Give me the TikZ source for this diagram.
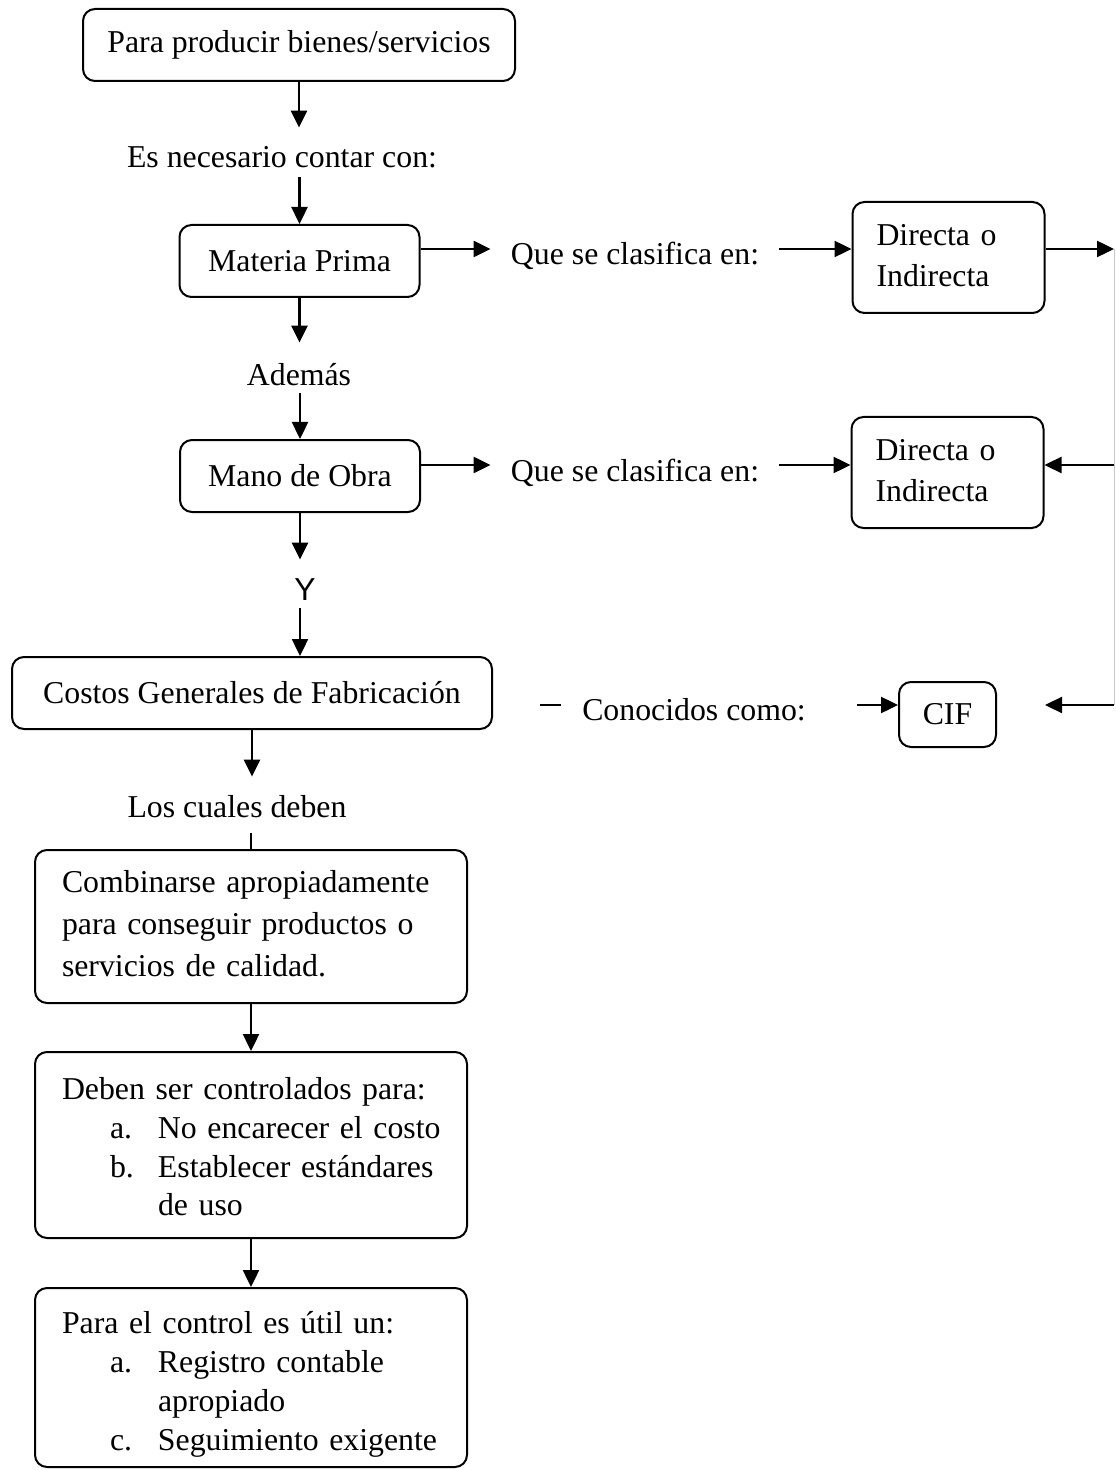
\documentclass[tikz,border=0pt]{standalone}
\usepackage{fontspec}
\setmainfont{Liberation Serif}
\newfontfamily\arialfam{Liberation Sans}
\usetikzlibrary{arrows.meta}

\tikzset{
  caja/.style={draw, line width=1pt, rounded corners=6pt, inner sep=0pt},
  cajalista/.style={caja, align=left, inner xsep=13.5pt, text width=189pt},
  cajad/.style={caja, align=left, inner xsep=12pt, text width=72pt, minimum height=55.5pt},
  rotulo/.style={inner sep=0pt, text height=11pt, text depth=0pt, anchor=base},
  flecha/.style={line width=1.2pt, -{Triangle[length=8.5pt,width=8pt]}},
}

\begin{document}
\begin{tikzpicture}[x=0.5pt,y=-0.5pt,font=\fontsize{15.9}{20.5}\selectfont]
\useasboundingbox (0,0) rectangle (1115,1470);

\coordinate (f1) at (0,249);
\coordinate (f2) at (0,465);
\coordinate (f3) at (0,705);
\coordinate (r1) at (1114,249);
\coordinate (r2) at (1114,465);
\coordinate (r3) at (1114,705);
\coordinate (cifin) at (1045,705);
\coordinate (g1) at (540,705);
\coordinate (g2) at (561,705);

% cajas
\node[caja, minimum width=216pt, minimum height=36pt] (inicio) at (299,45) {Para producir bienes/servicios};
\node[caja, minimum width=120pt, minimum height=36pt] (mp) at (299.5,261) {Materia Prima};
\node[caja, minimum width=120pt, minimum height=36pt] (mo) at (300,476) {Mano de Obra};
\node[cajad] (d1) at (948.5,257.5) {\begin{tabular}{@{}l@{}}Directa o\\Indirecta\end{tabular}};
\node[cajad] (d2) at (947.5,472.5) {\begin{tabular}{@{}l@{}}Directa o\\Indirecta\end{tabular}};
\node[caja, minimum width=240pt, minimum height=36pt] (cgf) at (252,693) {Costos Generales de Fabricación};
\node[caja, minimum width=48.5pt, minimum height=32.5pt] (cif) at (947.5,714.5) {CIF};
\node[cajalista, minimum height=76.5pt, font=\fontsize{15.9}{21}\selectfont] (comb) at (251,926.5) {\begin{tabular}{@{}l@{}}
Combinarse apropiadamente\\
para conseguir productos o\\
servicios de calidad.\end{tabular}};
\node[cajalista, minimum height=93pt, font=\fontsize{15.9}{19.3}\selectfont] (ctrl) at (251,1145) {\begin{tabular}{@{}l@{}}
\rule{0pt}{18.5pt}Deben ser controlados para:\\
\hspace*{24pt}\makebox[24pt][l]{a.}No encarecer el costo\\
\hspace*{24pt}\makebox[24pt][l]{b.}Establecer estándares\\
\hspace*{48pt}de uso\end{tabular}};
\node[cajalista, minimum height=89.5pt, font=\fontsize{15.9}{19.5}\selectfont] (util) at (251,1377.5) {\begin{tabular}{@{}l@{}}
\rule{0pt}{20.6pt}Para el control es útil un:\\
\hspace*{24pt}\makebox[24pt][l]{a.}Registro contable\\
\hspace*{48pt}apropiado\\
\hspace*{24pt}\makebox[24pt][l]{c.}Seguimiento exigente\end{tabular}};

% rotulos
\node[rotulo] (t1) at (282,168) {Es necesario contar con:};
\node[rotulo] (q1) at (635,265) {Que se clasifica en:};
\node[rotulo] (ad) at (299,386) {Además};
\node[rotulo] (q2) at (635,481) {Que se clasifica en:};
\node[rotulo, font=\arialfam\fontsize{15.9}{20.5}\selectfont] (yy) at (305,600) {Y};
\node[rotulo] (cc) at (694,720) {Conocidos como:};
\node[rotulo] (lc) at (237,817) {Los cuales deben};

% flechas verticales
\draw[flecha, shorten >=9pt] (inicio.south) -- (inicio.south |- t1.north);
\draw[flecha, shorten <=4.5pt] (mp.north |- t1.south) -- (mp.north);
\draw[flecha, shorten >=10.5pt] (mp.south) -- (mp.south |- ad.north);
\draw[flecha, shorten <=3.5pt] (mo.north |- ad.south) -- (mo.north);
\draw[flecha, shorten >=9pt] (mo.south) -- (mo.south |- yy.north);
\draw[flecha, shorten <=4pt] (mo.south |- yy.south) -- (mo.south |- cgf.north);
\draw[flecha, shorten >=9pt] (cgf.south) -- (cgf.south |- lc.north);
\draw[line width=1.2pt, shorten <=8pt] (comb.north |- lc.south) -- (comb.north);
\draw[flecha] (comb.south) -- (ctrl.north);
\draw[flecha] (ctrl.south) -- (util.north);

% flechas horizontales
\draw[flecha, shorten >=10pt] (mp.east |- f1) -- (q1.west |- f1);
\draw[flecha, shorten <=10pt] (q1.east |- f1) -- (d1.west |- f1);
\draw[flecha] (d1.east |- f1) -- (r1);
\draw[flecha, shorten >=10pt] (mo.east |- f2) -- (q2.west |- f2);
\draw[flecha, shorten <=10pt] (q2.east |- f2) -- (d2.west |- f2);
\draw[flecha] (r2) -- (d2.east |- f2);
\draw[line width=1.2pt] (g1) -- (g2);
\draw[flecha, shorten <=25.5pt] (cc.east |- f3) -- (cif.west |- f3);
\draw[flecha] (r3) -- (cifin);
\draw[gray!45, line width=0.5pt] (r1) -- (r3);

\end{tikzpicture}
\end{document}
